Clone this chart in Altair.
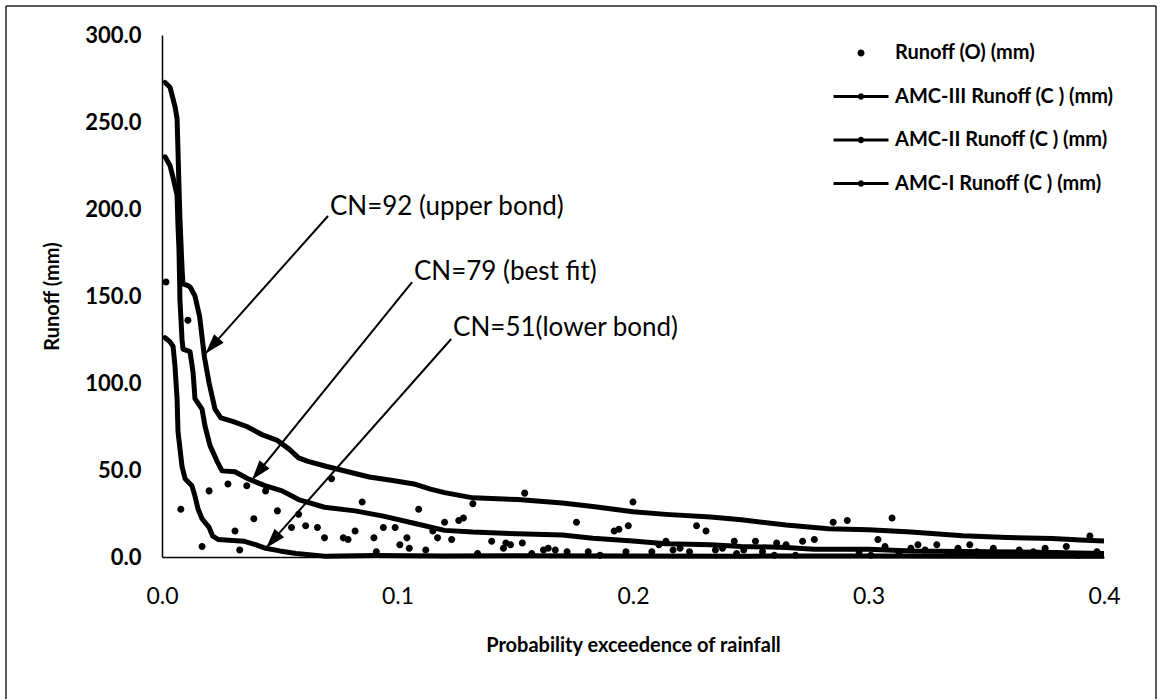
import altair as alt
import pandas as pd
import math

# ---------------- data ----------------
obs_p = [0.0017, 0.011, 0.008, 0.017, 0.020, 0.028, 0.031, 0.033, 0.036, 0.039, 0.044, 0.049,
         0.055, 0.058, 0.061, 0.066, 0.069, 0.072, 0.077, 0.079, 0.082, 0.085, 0.090, 0.091,
         0.094, 0.099, 0.101, 0.104, 0.105, 0.109, 0.112, 0.115, 0.117, 0.120, 0.123, 0.126,
         0.128, 0.132, 0.134, 0.140, 0.145, 0.146, 0.148, 0.153, 0.154, 0.157, 0.162, 0.164,
         0.167, 0.172, 0.176, 0.181, 0.186, 0.192, 0.194, 0.197, 0.198, 0.200, 0.208, 0.211,
         0.214, 0.217, 0.220, 0.224, 0.227, 0.231, 0.235, 0.238, 0.243, 0.244, 0.247, 0.252,
         0.255, 0.260, 0.261, 0.265, 0.269, 0.272, 0.277, 0.285, 0.291, 0.296, 0.301, 0.304,
         0.307, 0.310, 0.313, 0.318, 0.321, 0.324, 0.329, 0.334, 0.338, 0.343, 0.346, 0.353,
         0.359, 0.364, 0.370, 0.375, 0.380, 0.384, 0.389, 0.394, 0.397]
obs_v = [158, 136, 27.5, 6, 38, 42, 15, 4, 41, 22, 38, 26.5,
         17, 24.5, 18, 17, 11, 45, 11, 10, 15, 31.6, 11, 3,
         17, 17, 7, 11, 5, 27.5, 4, 15, 11, 20, 10, 21,
         22.4, 30.6, 2, 9, 5, 8, 7, 8, 36.7, 2, 4, 5,
         4, 3, 20, 3, 1, 15, 16, 3, 18, 31.6, 3, 7,
         9, 4, 5, 3, 18, 15, 4, 5, 9, 2, 4, 9,
         3, 1, 8, 7, 1, 9, 10, 20, 21, 3, 1, 10,
         6, 22.4, 2, 5, 7, 4, 7, 2, 5, 7, 3, 5,
         2, 4, 3, 5, 2, 6, 1, 12, 3]

amc3_p = [0.0008, 0.0013, 0.0034, 0.0055, 0.0064, 0.0068, 0.0072, 0.0076, 0.0085, 0.0089,
          0.0110, 0.0120, 0.0140, 0.0160, 0.0180, 0.0200, 0.0225, 0.0250, 0.0300, 0.0360,
          0.0430, 0.0490, 0.0540, 0.0580, 0.0620, 0.0700, 0.0760, 0.0820, 0.0880, 0.0980,
          0.1070, 0.1140, 0.1200, 0.1320, 0.1510, 0.1700, 0.1830, 0.2000, 0.2140, 0.2330,
          0.2460, 0.2650, 0.2830, 0.3000, 0.3180, 0.3400, 0.3590, 0.3780, 0.3900, 0.4000]
amc3_v = [272, 272.7, 270, 259, 252, 233, 213, 195, 166, 157,
          156, 155, 150, 138, 115, 100, 85, 80, 78, 75,
          70, 67, 62, 57, 55, 52, 50, 48, 46, 44,
          42, 39, 37, 34, 33, 31, 29, 26, 24.5, 23,
          21.4, 18.4, 16.3, 15.7, 14.3, 12.2, 11.2, 10.6, 9.8, 9.2]

amc2_p = [0.0008, 0.0013, 0.0034, 0.0047, 0.0064, 0.0068, 0.0072, 0.0075, 0.0076, 0.0080,
          0.0085, 0.0089, 0.0119, 0.0132, 0.0140, 0.0170, 0.0183, 0.0204, 0.0234, 0.0255,
          0.0310, 0.0365, 0.0437, 0.0510, 0.0580, 0.0690, 0.0820, 0.0940, 0.1070, 0.1200,
          0.1320, 0.1510, 0.1700, 0.1830, 0.2000, 0.2140, 0.2330, 0.2460, 0.2650, 0.2770,
          0.3000, 0.3180, 0.3400, 0.3720, 0.4000]
amc2_v = [229, 230, 225, 218, 208, 190, 177, 158, 148, 138,
          125, 119.5, 118, 106, 91, 85, 75, 64, 55, 49.5,
          49, 45, 41, 38, 33, 28.6, 26.5, 23.5, 19.4, 15.3,
          14.3, 13.3, 12.7, 10.8, 9.2, 7.6, 7.1, 6.1, 5.5, 4.5,
          4.5, 3.5, 3.1, 2.7, 2.0]

amc1_p = [0.0008, 0.0013, 0.0034, 0.0047, 0.0055, 0.0064, 0.0068, 0.0085, 0.0098, 0.0127,
          0.0140, 0.0153, 0.0170, 0.0200, 0.0215, 0.0240, 0.0300, 0.0350, 0.0400, 0.0440,
          0.0500, 0.0570, 0.0690, 0.0900, 0.1200, 0.1500, 0.2000, 0.2500, 0.3000, 0.3500,
          0.4000]
amc1_v = [125, 126, 123.6, 121, 110, 91, 72, 52, 45, 41,
          35, 27.6, 22, 17, 12, 10, 9.5, 9, 7, 5,
          3.5, 2, 0.5, 0.8, 0.6, 0.7, 0.6, 0.5, 0.6, 0.5,
          0.4]

series_names = ["Runoff (O) (mm)", "AMC-III Runoff (C ) (mm)",
                "AMC-II Runoff (C ) (mm)", "AMC-I Runoff (C ) (mm)"]

note_text = ["CN=92 (upper bond)", "CN=79 (best fit)", "CN=51(lower bond)"]
note_p = [0.0713, 0.1070, 0.1236]
note_v = [201.1, 163.8, 131.6]
arrow_p0 = [0.0705, 0.1062, 0.1228]
arrow_v0 = [196.0, 158.0, 125.3]
arrow_p1 = [0.0185, 0.0382, 0.0442]
arrow_v1 = [117.0, 44.3, 5.2]

x_ticks = [0.0, 0.1, 0.2, 0.3, 0.4]
y_ticks = [0, 50, 100, 150, 200, 250, 300]

# ---------------- layout ----------------
PW, PH = 942, 522          # plot area
PL, PT = 162, 35           # plot origin in the page
FONT = "Lato"

xs = alt.Scale(domain=[0, 0.4], nice=False, zero=False)
ys = alt.Scale(domain=[0, 300], nice=False)

x_axis = alt.Axis(values=x_ticks, format=".1f", labelFont=FONT, labelFontSize=23,
                  labelColor="black", labelPadding=28, labelFlush=False, ticks=False,
                  grid=False, domainColor="black", domainWidth=1.5,
                  title="Probability exceedence of rainfall", titleFont=FONT,
                  titleFontSize=20, titleFontWeight="bold", titleColor="black",
                  titleX=PW / 2, titleY=88, titleBaseline="middle")
y_axis = alt.Axis(values=y_ticks, format=".1f", labelFont=FONT, labelFontSize=22,
                  labelFontWeight="bold", labelColor="black", labelPadding=21,
                  ticks=False, grid=False, domainColor="black", domainWidth=1.5,
                  title="Runoff (mm)", titleFont=FONT, titleFontSize=20,
                  titleFontWeight="bold", titleColor="black", titleAngle=270,
                  titleX=-110, titleY=PH / 2, titleBaseline="middle")

# curves table
rows = []
for name, ps, vs in [(series_names[1], amc3_p, amc3_v),
                     (series_names[2], amc2_p, amc2_v),
                     (series_names[3], amc1_p, amc1_v)]:
    for i, (p, v) in enumerate(zip(ps, vs)):
        rows.append({"series": name, "p": p, "v": v, "o": i})
curves = pd.DataFrame(rows)
obs = pd.DataFrame({"series": series_names[0], "p": obs_p, "v": obs_v})

# custom symbol paths (unit = sqrt(size)/2 px = 22 px); same winding so the dot is filled
LINE_PATH = ("M-1.25,-0.068L1.25,-0.068L1.25,0.068L-1.25,0.068Z "
             "M-0.145,0A0.145,0.145,0,1,1,0.145,0A0.145,0.145,0,1,1,-0.145,0Z")
DOT_PATH = "M-0.16,0A0.16,0.16,0,1,1,0.16,0A0.16,0.16,0,1,1,-0.16,0Z"
SYM = 44 * 44

lines = alt.Chart(curves).mark_line(color="black", strokeWidth=5, strokeJoin="round").encode(
    x=alt.X("p:Q", scale=xs, axis=x_axis),
    y=alt.Y("v:Q", scale=ys, axis=y_axis),
    detail="series:N",
    order="o:Q",
)

points = alt.Chart(obs).mark_point(filled=True, color="black", opacity=1, size=SYM,
                                   strokeWidth=0).encode(
    x=alt.X("p:Q", scale=xs),
    y=alt.Y("v:Q", scale=ys),
    shape=alt.Shape("series:N",
                    scale=alt.Scale(domain=series_names,
                                    range=[DOT_PATH, LINE_PATH, LINE_PATH, LINE_PATH]),
                    legend=alt.Legend(title=None, orient="none", legendX=677, legendY=-4,
                                      labelFont=FONT, labelFontSize=20,
                                      labelFontWeight="bold", labelColor="black",
                                      labelLimit=400, labelOffset=12, symbolSize=SYM,
                                      symbolFillColor="black", symbolStrokeWidth=0,
                                      rowPadding=11.5, padding=0)),
)

notes = alt.Chart(pd.DataFrame({"p": note_p, "v": note_v, "t": note_text})).mark_text(
    font=FONT, fontSize=26, align="left", baseline="middle", color="black"
).encode(x=alt.X("p:Q", scale=xs), y=alt.Y("v:Q", scale=ys), text="t:N")

# arrow geometry (screen angle of each arrow, from its two ends)
sx, sy = PW / 0.4, PH / 300.0
angles = []
for a, b, c, d in zip(arrow_p0, arrow_v0, arrow_p1, arrow_v1):
    dx = (c - a) * sx
    dy = -(d - b) * sy
    angles.append(math.degrees(math.atan2(dx, -dy)) % 360)

arrows_df = pd.DataFrame({"p0": arrow_p0, "v0": arrow_v0, "p1": arrow_p1, "v1": arrow_v1,
                          "ang": angles})
arrow_lines = alt.Chart(arrows_df).mark_rule(color="black", strokeWidth=2).encode(
    x=alt.X("p0:Q", scale=xs), y=alt.Y("v0:Q", scale=ys),
    x2="p1:Q", y2="v1:Q")
HEAD = "M0,0L-0.32,1L0.32,1Z"
arrow_heads = alt.Chart(arrows_df).mark_point(shape=HEAD, filled=True, color="black",
                                              opacity=1, size=1600, strokeWidth=0).encode(
    x=alt.X("p1:Q", scale=xs), y=alt.Y("v1:Q", scale=ys),
    angle=alt.Angle("ang:Q", scale=None))

one = pd.DataFrame({"k": [0]})
frame_left = alt.Chart(one).mark_rule(color="#222222", strokeWidth=1.5).encode(
    x=alt.value(6 - PL), y=alt.value(6 - PT), y2=alt.value(699 - PT))
frame_right = alt.Chart(one).mark_rule(color="#222222", strokeWidth=1.5).encode(
    x=alt.value(1156 - PL), y=alt.value(6 - PT), y2=alt.value(699 - PT))
frame_top = alt.Chart(one).mark_rule(color="#222222", strokeWidth=1.5).encode(
    x=alt.value(6 - PL), x2=alt.value(1156 - PL), y=alt.value(6 - PT))

chart = alt.layer(frame_left, frame_right, frame_top, lines, points, arrow_lines,
                  arrow_heads, notes).properties(
    width=PW, height=PH,
    padding={"left": PL, "top": PT, "right": 1162 - PL - PW, "bottom": 700 - PT - PH},
    autosize=alt.AutoSizeParams(type="none"),
    background="white",
).configure_view(stroke=None)

chart.save("out.html", embed_options={"renderer": "svg", "actions": False})
